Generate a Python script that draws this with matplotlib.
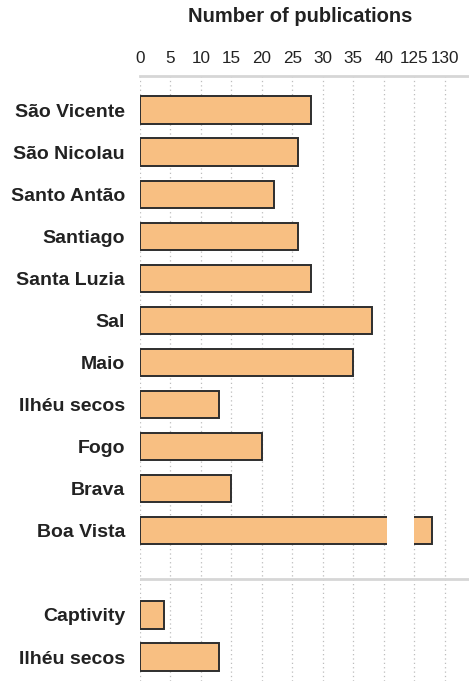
import numpy as np
import matplotlib.pyplot as plt
from matplotlib.patches import Rectangle

plt.rcParams['font.family'] = ['Liberation Sans', 'DejaVu Sans']

# Data
islands = ["São Vicente", "São Nicolau", "Santo Antão", "Santiago", "Santa Luzia",
           "Sal", "Maio", "Ilhéu secos", "Fogo", "Brava", "Boa Vista"]
island_counts = [28, 26, 22, 26, 28, 38, 35, 13, 20, 15, 128]
other_labels = ["Captivity", "Ilhéu secos"]
other_counts = [4, 13]
tick_values = [0, 5, 10, 15, 20, 25, 30, 35, 40, 125, 130]

# broken axis: 0-40 then 125-130
LOW_MAX = 40
HIGH_MIN = 125
GAP_START = 40.6


def to_axis(v):
    return v if v <= LOW_MAX else v - HIGH_MIN + LOW_MAX + 5


fig = plt.figure(figsize=(4.69, 6.81), dpi=100)
ax = fig.add_axes([140 / 469, 0.0, 1 - 140 / 469, 1 - 76 / 681])

fill = "#F8BF82"
edge = "#2e2e2e"
bar_h = 0.65

y_islands = np.arange(len(islands))
y_other = np.arange(len(other_labels)) + len(islands) + 1
labels = islands + other_labels
values = island_counts + other_counts
ypos = np.concatenate([y_islands, y_other])

ax.barh(ypos, [to_axis(v) for v in values], height=bar_h, color=fill,
        edgecolor=edge, linewidth=1.4, zorder=2)

# gap in the broken bars
for y, v in zip(ypos, values):
    if v > LOW_MAX:
        ax.add_patch(Rectangle((GAP_START, y - bar_h / 2 - 0.1), to_axis(HIGH_MIN) - GAP_START,
                               bar_h + 0.2, facecolor="white", edgecolor="none", zorder=3))

# separator between groups
sep_y = len(islands) - 1 + 48 / 42
ax.axhline(sep_y, color="#d6d6d6", linewidth=2, zorder=1)

ax.set_xlim(0, 54)
ax.set_ylim(len(islands) + len(other_labels) + 0.57, -0.81)

ax.set_xticks([to_axis(t) for t in tick_values])
ax.set_xticklabels([str(t) for t in tick_values], fontsize=12.3, color="#222222")
ax.xaxis.tick_top()
ax.tick_params(axis="x", length=0, pad=7.5)
ax.set_yticks(ypos)
ax.set_yticklabels(labels, fontsize=14, fontweight="bold", color="#222222")
ax.tick_params(axis="y", length=0, pad=10.8)

ax.grid(axis="x", linestyle=(0, (1, 2.5)), color="#bdbdbd", linewidth=0.9, zorder=0)
ax.set_axisbelow(True)

for s in ["left", "right", "bottom"]:
    ax.spines[s].set_visible(False)
ax.spines["top"].set_color("#d6d6d6")
ax.spines["top"].set_linewidth(2)

fig.text(ax.get_position().x0 + (300 - 140) / 469, 1 - 17 / 681, "Number of publications",
         ha="center", va="center", fontsize=14.5, fontweight="bold", color="#222222")

fig.savefig("out.png", dpi=100)
